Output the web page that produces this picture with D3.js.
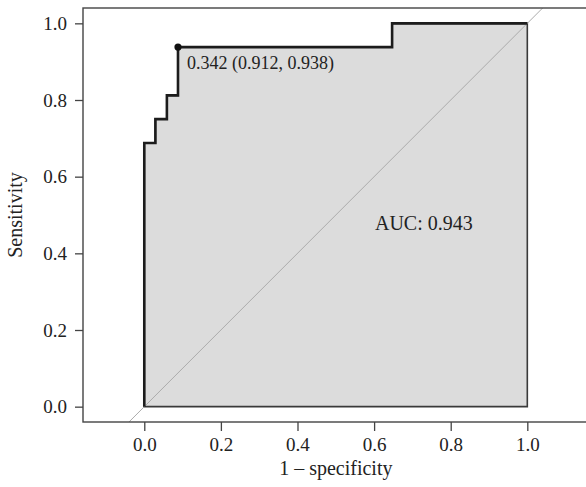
<!DOCTYPE html>
<html>
<head>
<meta charset="utf-8">
<script src="https://cdn.jsdelivr.net/npm/d3@7"></script>
<style>
  html, body { margin: 0; padding: 0; background: #fff; }
  svg { display: block; }
  text { font-family: "Liberation Serif", "DejaVu Serif", serif; fill: #222; }
</style>
</head>
<body>
<svg id="chart" width="586" height="487"></svg>
<script>
// ROC curve corner points (1 - specificity, sensitivity)
const fpr = [0, 0, 0.029, 0.059, 0.088, 0.647, 1.0];
const tpr = [0, 0.688, 0.75, 0.812, 0.938, 1.0, 1.0];

// Best threshold and its (specificity, sensitivity)
const bestThreshold = 0.342;
const bestSpecificity = 0.912;
const bestSensitivity = 0.938;

const aucValue = 0.943;

const xTicks = [0, 0.2, 0.4, 0.6, 0.8, 1.0];
const yTicks = [0, 0.2, 0.4, 0.6, 0.8, 1.0];

const xTitle = "1 \u2013 specificity";
const yTitle = "Sensitivity";

const svg = d3.select("#chart");

// Plot region with equal aspect, padded beyond [0, 1]
const x = d3.scaleLinear().domain([-0.16, 1.16]).range([83, 588.6]);
const y = d3.scaleLinear().domain([-0.04, 1.04]).range([422, 8]);

const [px0, px1] = x.range();
const [py1, py0] = y.range();

svg.append("defs").append("clipPath").attr("id", "plotClip")
  .append("rect")
  .attr("x", px0).attr("y", py0)
  .attr("width", px1 - px0).attr("height", py1 - py0);

const pts = fpr.map((f, i) => ({ f, t: tpr[i] }));

const plot = svg.append("g").attr("clip-path", "url(#plotClip)");

// Shaded AUC polygon
const area = d3.area()
  .curve(d3.curveStepAfter)
  .x(d => x(d.f))
  .y0(y(0))
  .y1(d => y(d.t));

plot.append("path")
  .datum(pts)
  .attr("d", area)
  .attr("fill", "#dcdcdc")
  .attr("stroke", "#3a3a3a")
  .attr("stroke-width", 1.6);

// Chance diagonal
plot.append("line")
  .attr("x1", x(-1)).attr("y1", y(-1))
  .attr("x2", x(2)).attr("y2", y(2))
  .attr("stroke", "#ababab")
  .attr("stroke-width", 1);

// ROC curve
const line = d3.line()
  .curve(d3.curveStepAfter)
  .x(d => x(d.f))
  .y(d => y(d.t));

plot.append("path")
  .datum(pts)
  .attr("d", line)
  .attr("fill", "none")
  .attr("stroke", "#1c1c1c")
  .attr("stroke-width", 2.6)
  .attr("stroke-linejoin", "miter");

// Best threshold marker and label
const bx = x(1 - bestSpecificity);
const by = y(bestSensitivity);
plot.append("circle")
  .attr("cx", bx).attr("cy", by).attr("r", 3.6)
  .attr("fill", "#111");

plot.append("text")
  .attr("x", bx + 9).attr("y", by + 22)
  .attr("font-size", 18)
  .text(`${bestThreshold.toFixed(3)} (${bestSpecificity.toFixed(3)}, ${bestSensitivity.toFixed(3)})`);

// AUC label
plot.append("text")
  .attr("x", x(0.73)).attr("y", y(0.46))
  .attr("text-anchor", "middle")
  .attr("font-size", 20)
  .text(`AUC: ${aucValue.toFixed(3)}`);

// Frame
svg.append("rect")
  .attr("x", px0).attr("y", py0)
  .attr("width", px1 - px0).attr("height", py1 - py0)
  .attr("fill", "none")
  .attr("stroke", "#444")
  .attr("stroke-width", 1.4);

// Axes
const xAxis = svg.append("g")
  .attr("transform", `translate(0,${py1})`)
  .call(d3.axisBottom(x).tickValues(xTicks).tickFormat(d3.format(".1f"))
    .tickSize(9).tickSizeOuter(0).tickPadding(7));
const yAxis = svg.append("g")
  .attr("transform", `translate(${px0},0)`)
  .call(d3.axisLeft(y).tickValues(yTicks).tickFormat(d3.format(".1f"))
    .tickSize(8).tickSizeOuter(0).tickPadding(8));

[xAxis, yAxis].forEach(g => {
  g.select(".domain").remove();
  g.selectAll(".tick line").attr("stroke", "#444").attr("stroke-width", 1.3);
  g.selectAll(".tick text")
    .attr("font-family", "Liberation Serif, serif")
    .attr("font-size", 19)
    .attr("fill", "#222");
});

// Axis titles
svg.append("text")
  .attr("x", (px0 + px1) / 2).attr("y", 475)
  .attr("text-anchor", "middle")
  .attr("font-size", 20)
  .text(xTitle);

svg.append("text")
  .attr("transform", `translate(22,${(py0 + py1) / 2}) rotate(-90)`)
  .attr("text-anchor", "middle")
  .attr("font-size", 20)
  .text(yTitle);
</script>
</body>
</html>
